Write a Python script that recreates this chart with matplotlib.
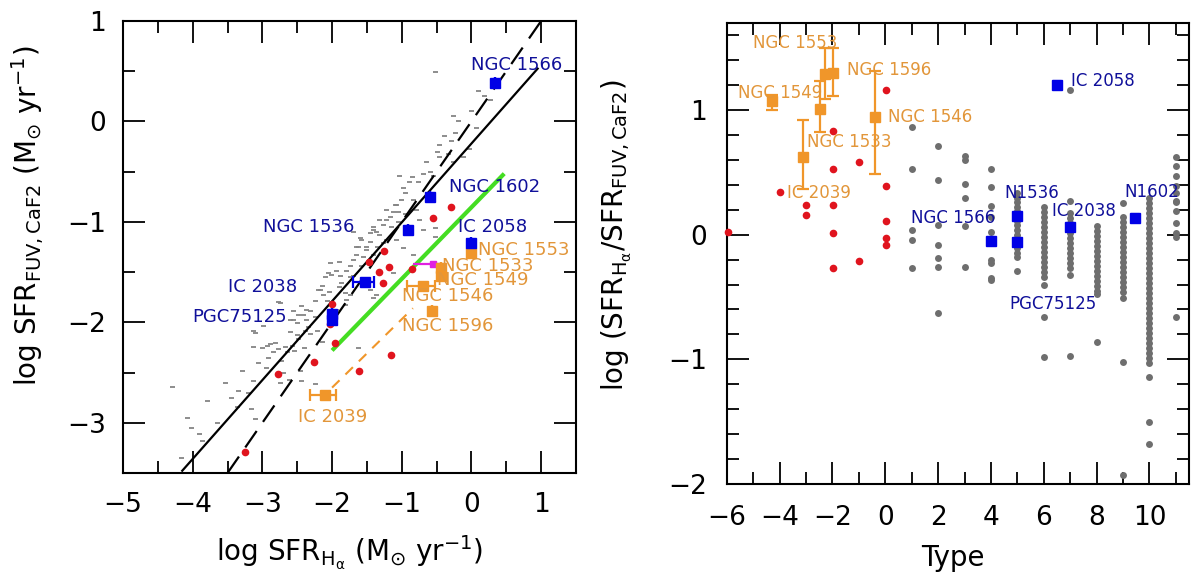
import matplotlib
matplotlib.use("Agg")
import matplotlib.pyplot as plt
from matplotlib.ticker import MultipleLocator
import numpy as np

plt.rcParams['font.family'] = ['DejaVu Sans']
plt.rcParams['mathtext.fontset'] = 'dejavusans'
plt.rcParams['mathtext.default'] = 'regular'

# ---------------- LEFT PANEL DATA ----------------
ref_x = [-4.30, -4.17, -4.08, -4.02, -3.91, -3.86, -3.79, -3.54, -3.35, -3.37, -3.29, -3.16, -3.13,
         -3.11, -3.06, -3.11, -3.13, -3.01, -2.92, -2.89, -2.82, -2.77, -2.73, -2.70, -2.75, -2.68,
         -2.65, -2.58, -2.54, -2.51, -2.49, -2.46, -2.44, -2.62, -2.40, -2.32, -2.22, -2.24, -1.63,
         -2.14, -2.39, -2.37, -2.42, -2.44, -2.20, -2.15, -2.13, -2.08, -2.01, -1.94, -1.89, -1.87,
         -1.82, -1.80, -1.75, -1.70, -1.65, -1.63, -1.58, -1.51, -1.46, -1.41, -1.37, -1.32, -1.27,
         -1.22, -1.17, -1.10, -1.06, -1.01, -1.46, -1.37, -1.75, -1.82, -1.94, -2.25, -2.32, -2.51,
         -2.61, -3.13, -2.77, -2.56, -2.03, -0.52, 0.09, 0.26, -0.27, 0.07, -0.24, -0.46, -0.03,
         -0.34, -0.46, -0.27, -0.12, -0.60, -0.70, -0.55, -1.04, -0.98, -0.96, -0.77, -0.84, -1.08,
         -1.13, -1.22, -0.79, -0.75, -0.70, -0.53, -1.41, -1.32, -1.27, -1.65, -0.53, -1.60, -1.51,
         -1.22, -1.08, -0.84, -0.98, -1.41, -1.80, -1.70, -1.58, -1.41, -1.13, -2.06, -2.18, -2.37,
         -2.49, -2.56, -2.75, -2.99, -2.94, -1.45, -1.35, -1.25, -1.15, -1.05, -0.95, -0.90, -0.85,
         -0.65, -0.40, -0.20, 0.00, 0.18, -0.30, -0.50, -1.55, -1.75, -1.90, -2.05, -2.25, -2.35,
         -2.60, -2.85, -2.95, -3.20, -3.45, -3.65, -1.70, -1.90, -2.10]
ref_y = [-2.64, -3.35, -2.95, -3.05, -3.11, -3.18, -2.78, -2.60, -2.68, -2.84, -2.48, -2.86, -2.58,
         -2.96, -2.41, -2.11, -2.25, -2.26, -2.36, -2.22, -2.21, -2.27, -2.39, -2.50, -2.60, -2.25,
         -2.30, -2.24, -2.29, -2.13, -2.17, -2.48, -2.58, -2.57, -2.26, -2.12, -2.09, -2.61, -2.26,
         -2.20, -2.09, -1.98, -1.93, -1.84, -1.68, -1.64, -1.73, -1.79, -1.53, -1.49, -1.54, -1.61,
         -1.71, -1.78, -1.44, -1.38, -1.33, -1.25, -1.18, -1.28, -1.11, -1.05, -1.10, -0.98, -1.21,
         -0.88, -0.95, -0.83, -0.90, -0.78, -1.68, -1.73, -1.73, -1.83, -1.88, -1.79, -1.89, -2.01,
         -1.98, -2.09, -1.80, -1.89, -1.41, 0.49, 0.30, 0.21, 0.05, -0.07, -0.12, -0.23, -0.27,
         -0.32, -0.35, -0.40, -0.35, -0.50, -0.52, -0.54, -0.54, -0.66, -0.71, -0.60, -0.78, -0.83,
         -0.90, -0.98, -0.88, -0.98, -1.08, -1.06, -1.08, -1.13, -1.03, -1.25, -1.15, -1.16, -1.25,
         -1.18, -1.18, -1.33, -1.26, -1.33, -1.49, -1.54, -1.44, -1.76, -1.51, -1.51, -1.68, -1.88,
         -1.93, -1.98, -1.81, -2.04, -2.24, -1.20, -1.25, -1.30, -1.05, -1.00, -0.92, -0.60, -0.55,
         -0.40, -0.15, 0.00, 0.10, 0.25, -0.20, -0.30, -1.35, -1.55, -1.65, -1.70, -1.95, -2.05,
         -2.10, -2.30, -2.45, -2.70, -2.75, -3.00, -1.10, -1.40, -1.55]

red_l_x = [-0.29, -0.55, -1.25, -1.47, -1.32, -1.18, -1.27, -0.86, -2.00, -2.03, -1.96, -2.26,
           -2.77, -1.62, -1.15, -3.25]
red_l_y = [-0.85, -0.96, -1.29, -1.40, -1.50, -1.45, -1.61, -1.47, -1.82, -2.02, -2.21, -2.40,
           -2.51, -2.48, -2.33, -3.29]

blue_l_names = ['NGC 1566', 'NGC 1602', 'NGC 1536', 'IC 2058', 'IC 2038', 'PGC75125', '']
blue_l_x = [0.34, -0.60, -0.91, 0.00, -1.53, -2.00, -2.00]
blue_l_y = [0.38, -0.75, -1.08, -1.21, -1.60, -1.92, -1.98]
blue_l_xerr_lo = [0, 0, 0, 0, 0.17, 0, 0]
blue_l_xerr_hi = [0, 0, 0, 0, 0.13, 0, 0]

orange_l_names = ['NGC 1553', 'NGC 1533', 'NGC 1549', 'NGC 1546', 'NGC 1596', 'IC 2039']
orange_l_x = [0.00, -0.43, -0.43, -0.69, -0.57, -2.10]
orange_l_y = [-1.31, -1.46, -1.54, -1.64, -1.89, -2.72]
orange_l_xerr_lo = [0, 0, 0, 0.24, 0, 0.21]
orange_l_xerr_hi = [0, 0, 0, 0.16, 0, 0.15]

magenta_x, magenta_y = [-0.55], [-1.42]
magenta_xerr = [[0.29], [0.12]]

green_x = [-2.00, 0.47]
green_y = [-2.28, -0.52]
odash_x = [-2.00, -0.84]
odash_y = [-2.65, -1.86]
fit_x = [-4.15, 0.95]
fit_slope, fit_icpt = 0.785, -0.22
one_to_one = [-3.5, 1.0]

lab_l = {  # name: (x, y, colour)
    'NGC 1566': (0.00, 0.56, 'b'), 'NGC 1602': (-0.32, -0.65, 'b'),
    'NGC 1536': (-2.99, -1.05, 'b'), 'IC 2058': (-0.20, -1.05, 'b'),
    'IC 2038': (-3.50, -1.65, 'b'), 'PGC75125': (-4.00, -1.95, 'b'),
    'NGC 1553': (0.09, -1.28, 'o'), 'NGC 1533': (-0.42, -1.44, 'o'),
    'NGC 1549': (-0.49, -1.58, 'o'), 'NGC 1546': (-0.99, -1.74, 'o'),
    'NGC 1596': (-0.99, -2.04, 'o'), 'IC 2039': (-2.49, -2.94, 'o'),
}

# ---------------- RIGHT PANEL DATA ----------------
gray_r = {
    1: [0.86, 0.53, 0.04, -0.04, -0.27],
    2: [0.71, 0.44, 0.08, -0.08, -0.19, -0.26, -0.63],
    3: [0.63, 0.60, 0.41, 0.29, 0.07, -0.26],
    4: [0.53, 0.38, 0.23, 0.14, 0.02, -0.20, -0.23, -0.35, -0.36],
    5: [0.33, 0.29, 0.26, 0.22, 0.19, 0.15, 0.11, 0.08, 0.04, 0.00, -0.04, -0.08, -0.11, -0.15,
        -0.18, -0.29],
    6: [0.22, 0.18, 0.14, 0.10, 0.06, 0.02, -0.02, -0.06, -0.10, -0.14, -0.18, -0.22, -0.26,
        -0.30, -0.34, -0.40, -0.66, -0.98],
    7: [1.16, 0.27, 0.17, 0.13, 0.09, 0.05, 0.01, -0.03, -0.07, -0.11, -0.15, -0.19, -0.23,
        -0.27, -0.32, -0.97],
    8: [0.07, 0.03, -0.01, -0.05, -0.09, -0.13, -0.17, -0.21, -0.25, -0.29, -0.33, -0.37, -0.41,
        -0.45, -0.48, -0.86],
    9: [0.25, 0.14, 0.10, 0.06, 0.02, -0.02, -0.06, -0.10, -0.14, -0.18, -0.22, -0.26, -0.30,
        -0.34, -0.38, -0.42, -0.46, -0.51, -1.02, -1.93],
    10: [0.29, 0.25, 0.21, 0.17, 0.13, 0.09, 0.05, 0.01, -0.03, -0.07, -0.11, -0.15, -0.19, -0.23,
         -0.27, -0.31, -0.35, -0.39, -0.43, -0.47, -0.51, -0.55, -0.59, -0.63, -0.67, -0.71,
         -0.75, -0.79, -0.83, -0.87, -0.91, -0.95, -0.99, -1.03, -1.14, -1.50, -1.68],
    11: [0.62, 0.55, 0.47, 0.39, 0.33, 0.27, 0.26, 0.19, 0.09, 0.01, -0.02, -0.66],
}
red_r_x = [-5.97, -3.98, -3.00, -3.00, -1.97, -1.97, -1.97, -1.97, -1.97, -0.99, -0.99,
           0.01, 0.01, 0.01, 0.01, 0.01]
red_r_y = [0.02, 0.34, 0.24, 0.16, 0.83, 0.53, 0.24, 0.01, -0.27, 0.58, -0.21,
           1.16, 0.39, 0.11, -0.03, -0.085]

orange_r_x = [-4.30, -2.28, -1.97, -2.47, -3.10, -0.39]
orange_r_y = [1.07, 1.29, 1.30, 1.01, 0.62, 0.94]
orange_r_elo = [0.07, 0.20, 0.19, 0.19, 0.25, 0.45]
orange_r_ehi = [0.05, 0.21, 0.20, 0.22, 0.30, 0.37]

blue_r_x = [4.00, 5.00, 5.00, 7.00, 6.50, 9.47]
blue_r_y = [-0.05, 0.15, -0.06, 0.06, 1.20, 0.135]

lab_r = {
    'NGC 1553': (-5.00, 1.54, 'o'), 'NGC 1596': (-1.46, 1.32, 'o'),
    'NGC 1549': (-5.57, 1.14, 'o'), 'NGC 1546': (0.10, 0.94, 'o'),
    'NGC 1533': (-2.97, 0.74, 'o'), 'IC 2039': (-3.73, 0.33, 'o'),
    'IC 2058': (7.04, 1.23, 'b'), 'NGC 1566': (0.99, 0.13, 'b'),
    'N1536': (4.52, 0.33, 'b'), 'IC 2038': (6.33, 0.19, 'b'),
    'N1602': (9.05, 0.34, 'b'), 'PGC75125': (4.71, -0.56, 'b'),
}

# ---------------- STYLE ----------------
C_BLUE = '#0000e6'
C_BLUE_T = '#10109a'
C_ORANGE = '#f0962a'
C_ORANGE_T = '#e2963a'
C_RED = '#e0141e'
C_GRAY = '#6e6e6e'
C_GREEN = '#44dd22'
C_MAG = '#e020e0'
tcol = {'b': C_BLUE_T, 'o': C_ORANGE_T}

fig = plt.figure(figsize=(12, 5.79), dpi=100)
ax1 = fig.add_axes([0.1025, 0.1831, 0.3775, 0.7807])
ax2 = fig.add_axes([0.6056, 0.1641, 0.3853, 0.7967])


def style(ax, xmaj, xmin, ymaj, ymin, xpad, ypad):
    ax.xaxis.set_major_locator(MultipleLocator(xmaj))
    ax.xaxis.set_minor_locator(MultipleLocator(xmin))
    ax.yaxis.set_major_locator(MultipleLocator(ymaj))
    ax.yaxis.set_minor_locator(MultipleLocator(ymin))
    ax.tick_params(which='both', direction='in', top=True, right=True, width=1.3, colors='black')
    ax.tick_params(which='major', length=16)
    ax.tick_params(which='minor', length=8.5)
    ax.tick_params(axis='x', which='major', pad=xpad, labelsize=19)
    ax.tick_params(axis='y', which='major', pad=ypad, labelsize=19)
    for s in ax.spines.values():
        s.set_linewidth(1.5)


# ---------------- LEFT PANEL ----------------
ax1.set_xlim(-5, 1.5)
ax1.set_ylim(-3.5, 1)
style(ax1, 1, 0.5, 1, 0.5, 14, 12)

ax1.plot(ref_x, ref_y, ls='none', marker='_', ms=3.6, mew=1.3, color='#858585', zorder=2)
fx = np.array(fit_x)
ax1.plot(fx, fit_slope * fx + fit_icpt, color='black', lw=1.6, zorder=3)
ax1.plot(one_to_one, one_to_one, color='black', lw=1.6, dashes=(9, 5), zorder=3)
ax1.plot(green_x, green_y, color=C_GREEN, lw=3.0, solid_capstyle='butt', zorder=3)
ax1.plot(odash_x, odash_y, color=C_ORANGE, lw=1.5, dashes=(5, 4), zorder=3)
ax1.plot(red_l_x, red_l_y, ls='none', marker='o', ms=5.5, color=C_RED, mec='none', zorder=4)
ax1.errorbar(magenta_x, magenta_y, xerr=magenta_xerr, fmt='s', ms=5, color=C_MAG,
             elinewidth=1.6, capsize=0, zorder=4)
ax1.errorbar(orange_l_x, orange_l_y, xerr=[orange_l_xerr_lo, orange_l_xerr_hi], fmt='s', ms=7,
             color=C_ORANGE, mec=C_ORANGE, elinewidth=1.6, capsize=4, capthick=1.6, zorder=5)
ax1.errorbar(blue_l_x, blue_l_y, xerr=[blue_l_xerr_lo, blue_l_xerr_hi], fmt='s', ms=7.5,
             color=C_BLUE, mec=C_BLUE, elinewidth=1.6, capsize=4, capthick=1.6, zorder=6)
for name, (x, y, c) in lab_l.items():
    ax1.text(x, y, name, color=tcol[c], fontsize=13, ha='left', va='center', zorder=7,
             clip_on=False)

ax1.set_xlabel(r'log SFR$_{\mathrm{H}_{\alpha}}$ (M$_{\odot}$ yr$^{-1}$)', fontsize=20)
ax1.set_ylabel(r'log SFR$_{\mathrm{FUV,CaF2}}$ (M$_{\odot}$ yr$^{-1}$)', fontsize=20)
ax1.xaxis.set_label_coords(0.50, -0.135)
ax1.yaxis.set_label_coords(-0.17, 0.57)

# ---------------- RIGHT PANEL ----------------
ax2.set_xlim(-6, 11.5)
ax2.set_ylim(-2, 1.7)
style(ax2, 2, 1, 1, 0.2, 15, 14)

gx = [t for t, vals in gray_r.items() for _ in vals]
gy = [v for vals in gray_r.values() for v in vals]
ax2.plot(gx, gy, ls='none', marker='o', ms=5, color=C_GRAY, mec='none', zorder=2)
ax2.plot(red_r_x, red_r_y, ls='none', marker='o', ms=5.5, color=C_RED, mec='none', zorder=3,
         clip_on=False)
ax2.errorbar(orange_r_x, orange_r_y, yerr=[orange_r_elo, orange_r_ehi], fmt='s', ms=6.5,
             color=C_ORANGE, mec=C_ORANGE, elinewidth=1.6, capsize=4, capthick=1.6, zorder=4)
ax2.errorbar(blue_r_x, blue_r_y, yerr=0.03, fmt='s', ms=6.5, color=C_BLUE, mec=C_BLUE,
             elinewidth=1.5, capsize=3, capthick=1.5, zorder=5)
for name, (x, y, c) in lab_r.items():
    ax2.text(x, y, name, color=tcol[c], fontsize=12, ha='left', va='center', zorder=7)

ax2.set_xlabel('Type', fontsize=20)
ax2.set_ylabel(r'log (SFR$_{\mathrm{H}_{\alpha}}$/SFR$_{\mathrm{FUV,CaF2}}$)', fontsize=20)
ax2.xaxis.set_label_coords(0.49, -0.13)
ax2.yaxis.set_label_coords(-0.20, 0.54)

fig.savefig('out.png', dpi=100)
